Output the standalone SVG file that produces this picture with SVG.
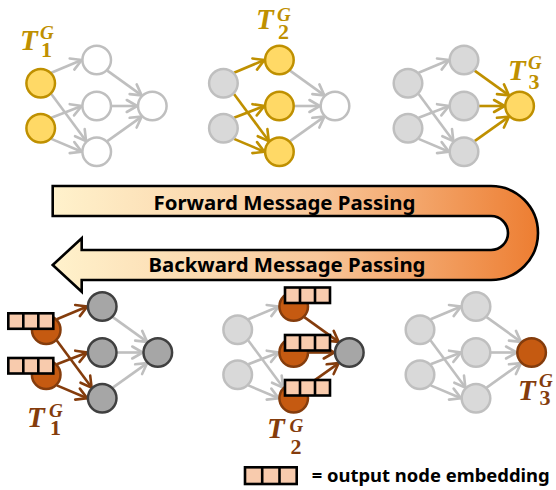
<svg xmlns="http://www.w3.org/2000/svg" width="556" height="490" viewBox="0 0 556 490">
<defs>
<style>
.e{fill:none;stroke-width:2.6}
.g{stroke:#BFBFBF;marker-end:url(#mg)}
.y{stroke:#BF9000;marker-end:url(#my)}
.b{stroke:#843C0C;marker-end:url(#mb)}
circle{stroke-width:2.5}
.nw{fill:#FFFFFF;stroke:#BFBFBF}
.nl{fill:#D9D9D9;stroke:#BFBFBF}
.ny{fill:#FFD966;stroke:#BF9000}
.nd{fill:#A6A6A6;stroke:#404040}
.no{fill:#C55A11;stroke:#843C0C}
.lab{font-family:"Liberation Serif","DejaVu Serif",serif;font-weight:bold;font-style:italic}
.T{font-size:29px}
.sub{font-size:22px;font-style:normal}
.sup{font-size:19px}
.ly{fill:#BF9000}
.lb{fill:#843C0C}
.bt{font-family:"Noto Sans","Open Sans",sans-serif;font-weight:bold;font-size:20px;fill:#000000}
.lt{font-family:"Noto Sans","Open Sans",sans-serif;font-weight:bold;font-size:17px;fill:#000000}
.cell{fill:#F8CBAD;stroke:#000000;stroke-width:2.6}
</style>
<marker id="mg" viewBox="-12 -8 16 16" refX="2" refY="0" markerWidth="16" markerHeight="16" markerUnits="userSpaceOnUse" orient="auto"><path d="M-8.5,-6 L2,0 L-8.5,6" fill="none" stroke="#BFBFBF" stroke-width="2.6" stroke-linecap="round"/></marker>
<marker id="my" viewBox="-12 -8 16 16" refX="2" refY="0" markerWidth="16" markerHeight="16" markerUnits="userSpaceOnUse" orient="auto"><path d="M-8.5,-6 L2,0 L-8.5,6" fill="none" stroke="#BF9000" stroke-width="2.6" stroke-linecap="round"/></marker>
<marker id="mb" viewBox="-12 -8 16 16" refX="2" refY="0" markerWidth="16" markerHeight="16" markerUnits="userSpaceOnUse" orient="auto"><path d="M-8.5,-6 L2,0 L-8.5,6" fill="none" stroke="#843C0C" stroke-width="2.6" stroke-linecap="round"/></marker>
<linearGradient id="grad" gradientUnits="userSpaceOnUse" x1="52" y1="0" x2="539" y2="0">
<stop offset="0" stop-color="#FFF2CC"/>
<stop offset="0.55" stop-color="#F8C699"/>
<stop offset="1" stop-color="#ED7D31"/>
</linearGradient>
<g id="emb">
<rect class="cell" x="0" y="0" width="45" height="15.5"/>
<line x1="15" y1="0" x2="15" y2="15.5" stroke="#000" stroke-width="2.6"/>
<line x1="30" y1="0" x2="30" y2="15.5" stroke="#000" stroke-width="2.6"/>
</g>
</defs>

<g id="banner">
<path d="M52.7,186 L491,186 A47,47 0 0 1 491,280 L81.7,280 L81.7,291.7 L52.7,265 L81.7,238.3 L81.7,250 L491,250 A17,17 0 0 0 491,216 L52.7,216 Z" fill="url(#grad)" stroke="#000" stroke-width="2.6" stroke-linejoin="miter"/>
<text class="bt" x="153.5" y="210" textLength="262" lengthAdjust="spacingAndGlyphs">Forward Message Passing</text>
<text class="bt" x="148.5" y="271.7" textLength="277" lengthAdjust="spacingAndGlyphs">Backward Message Passing</text>
</g>

<g id="connectors">
<g transform="translate(0,0)">
<path class="e g" d="M51.3,72.7 L81.7,60"/>
<path class="e g" d="M51.3,93.9 L86.1,141.1"/>
<path class="e g" d="M51.3,117.7 L81.7,106"/>
<path class="e g" d="M51.3,138.9 L81.7,151.7"/>
<path class="e g" d="M107.3,70.6 L141.7,95.4"/>
<path class="e g" d="M111.7,106 L137.3,106"/>
<path class="e g" d="M107.3,141.1 L141.7,116.6"/>
</g>
<g transform="translate(182.7,0)">
<path class="e y" d="M51.3,72.7 L81.7,60"/>
<path class="e y" d="M51.3,93.9 L86.1,141.1"/>
<path class="e y" d="M51.3,117.7 L81.7,106"/>
<path class="e y" d="M51.3,138.9 L81.7,151.7"/>
<path class="e g" d="M107.3,70.6 L141.7,95.4"/>
<path class="e g" d="M111.7,106 L137.3,106"/>
<path class="e g" d="M107.3,141.1 L141.7,116.6"/>
</g>
<g transform="translate(367.3,0)">
<path class="e g" d="M51.3,72.7 L81.7,60"/>
<path class="e g" d="M51.3,93.9 L86.1,141.1"/>
<path class="e g" d="M51.3,117.7 L81.7,106"/>
<path class="e g" d="M51.3,138.9 L81.7,151.7"/>
<path class="e y" d="M107.3,70.6 L141.7,95.4"/>
<path class="e y" d="M111.7,106 L137.3,106"/>
<path class="e y" d="M107.3,141.1 L141.7,116.6"/>
</g>
<g transform="translate(5.5,246.5)">
<path class="e b" d="M51.3,72.7 L81.7,60"/>
<path class="e b" d="M51.3,93.9 L86.1,141.1"/>
<path class="e b" d="M51.3,117.7 L81.7,106"/>
<path class="e b" d="M51.3,138.9 L81.7,151.7"/>
<path class="e g" d="M107.3,70.6 L141.7,95.4"/>
<path class="e g" d="M111.7,106 L137.3,106"/>
<path class="e g" d="M107.3,141.1 L141.7,116.6"/>
</g>
<g transform="translate(197,246.5)">
<path class="e g" d="M51.3,72.7 L81.7,60"/>
<path class="e g" d="M51.3,93.9 L86.1,141.1"/>
<path class="e g" d="M51.3,117.7 L81.7,106"/>
<path class="e g" d="M51.3,138.9 L81.7,151.7"/>
<path class="e b" d="M107.3,70.6 L141.7,95.4"/>
<path class="e b" d="M111.7,106 L137.3,106"/>
<path class="e b" d="M107.3,141.1 L141.7,116.6"/>
</g>
<g transform="translate(379.3,246.5)">
<path class="e g" d="M51.3,72.7 L81.7,60"/>
<path class="e g" d="M51.3,93.9 L86.1,141.1"/>
<path class="e g" d="M51.3,117.7 L81.7,106"/>
<path class="e g" d="M51.3,138.9 L81.7,151.7"/>
<path class="e g" d="M107.3,70.6 L141.7,95.4"/>
<path class="e g" d="M111.7,106 L137.3,106"/>
<path class="e g" d="M107.3,141.1 L141.7,116.6"/>
</g>
</g>

<!-- Panel A -->
<g id="a-i1"><circle class="ny" cx="40.7" cy="83.3" r="14.3"/></g>
<g id="a-i2"><circle class="ny" cx="40.7" cy="128.3" r="14.3"/></g>
<g id="a-h1"><circle class="nw" cx="96.7" cy="60" r="14.3"/></g>
<g id="a-h2"><circle class="nw" cx="96.7" cy="106" r="14.3"/></g>
<g id="a-h3"><circle class="nw" cx="96.7" cy="151.7" r="14.3"/></g>
<g id="a-o"><circle class="nw" cx="152.3" cy="106" r="14.3"/></g>
<!-- Panel B -->
<g id="b-i1"><circle class="nl" cx="223.4" cy="83.3" r="14.3"/></g>
<g id="b-i2"><circle class="nl" cx="223.4" cy="128.3" r="14.3"/></g>
<g id="b-h1"><circle class="ny" cx="279.4" cy="60" r="14.3"/></g>
<g id="b-h2"><circle class="ny" cx="279.4" cy="106" r="14.3"/></g>
<g id="b-h3"><circle class="ny" cx="279.4" cy="151.7" r="14.3"/></g>
<g id="b-o"><circle class="nw" cx="335" cy="106" r="14.3"/></g>
<!-- Panel C -->
<g id="c-i1"><circle class="nl" cx="408" cy="83.3" r="14.3"/></g>
<g id="c-i2"><circle class="nl" cx="408" cy="128.3" r="14.3"/></g>
<g id="c-h1"><circle class="nl" cx="464" cy="60" r="14.3"/></g>
<g id="c-h2"><circle class="nl" cx="464" cy="106" r="14.3"/></g>
<g id="c-h3"><circle class="nl" cx="464" cy="151.7" r="14.3"/></g>
<g id="c-o"><circle class="ny" cx="519.6" cy="106" r="14.3"/></g>
<!-- Panel D -->
<g id="d-i1"><circle class="no" cx="46.2" cy="329.8" r="14.3"/><use href="#emb" x="8.3" y="313.3"/></g>
<g id="d-i2"><circle class="no" cx="46.2" cy="374.8" r="14.3"/><use href="#emb" x="8.3" y="358"/></g>
<g id="d-h1"><circle class="nd" cx="102.2" cy="306.5" r="14.3"/></g>
<g id="d-h2"><circle class="nd" cx="102.2" cy="352.5" r="14.3"/></g>
<g id="d-h3"><circle class="nd" cx="102.2" cy="398.2" r="14.3"/></g>
<g id="d-o"><circle class="nd" cx="157.8" cy="352.5" r="14.3"/></g>
<!-- Panel E -->
<g id="e-i1"><circle class="nl" cx="237.7" cy="329.8" r="14.3"/></g>
<g id="e-i2"><circle class="nl" cx="237.7" cy="374.8" r="14.3"/></g>
<g id="e-h1"><circle class="no" cx="293.7" cy="306.5" r="14.3"/><use href="#emb" x="285" y="287.5"/></g>
<g id="e-h2"><circle class="no" cx="293.7" cy="352.5" r="14.3"/><use href="#emb" x="285" y="335"/></g>
<g id="e-h3"><circle class="no" cx="293.7" cy="398.2" r="14.3"/><use href="#emb" x="285" y="380"/></g>
<g id="e-o"><circle class="nd" cx="349.3" cy="352.5" r="14.3"/></g>
<!-- Panel F -->
<g id="f-i1"><circle class="nl" cx="420" cy="329.8" r="14.3"/></g>
<g id="f-i2"><circle class="nl" cx="420" cy="374.8" r="14.3"/></g>
<g id="f-h1"><circle class="nl" cx="476" cy="306.5" r="14.3"/></g>
<g id="f-h2"><circle class="nl" cx="476" cy="352.5" r="14.3"/></g>
<g id="f-h3"><circle class="nl" cx="476" cy="398.2" r="14.3"/></g>
<g id="f-o"><circle class="no" cx="531.6" cy="352.5" r="14.3"/></g>

<!-- Labels -->
<g id="label-a"><text class="lab ly"><tspan class="T" x="20" y="50">T</tspan><tspan class="sup" x="40" y="38.5">G</tspan><tspan class="sub" x="41" y="57">1</tspan></text></g>
<g id="label-b"><text class="lab ly"><tspan class="T" x="256" y="28.5">T</tspan><tspan class="sup" x="277" y="20.5">G</tspan><tspan class="sub" x="278" y="38.5">2</tspan></text></g>
<g id="label-c"><text class="lab ly"><tspan class="T" x="508" y="80">T</tspan><tspan class="sup" x="528" y="68.5">G</tspan><tspan class="sub" x="528.5" y="88.5">3</tspan></text></g>
<g id="label-d"><text class="lab lb"><tspan class="T" x="27" y="427">T</tspan><tspan class="sup" x="49" y="416.5">G</tspan><tspan class="sub" x="50" y="435">1</tspan></text></g>
<g id="label-e"><text class="lab lb"><tspan class="T" x="267" y="438">T</tspan><tspan class="sup" x="289.5" y="431.5">G</tspan><tspan class="sub" x="290.5" y="453.5">2</tspan></text></g>
<g id="label-f"><text class="lab lb"><tspan class="T" x="518" y="400">T</tspan><tspan class="sup" x="539" y="386.5">G</tspan><tspan class="sub" x="539.5" y="405">3</tspan></text></g>

<g id="legend">
<rect class="cell" x="245" y="467.3" width="51.7" height="16.7"/>
<line x1="262.2" y1="467.3" x2="262.2" y2="484" stroke="#000" stroke-width="2.6"/>
<line x1="279.5" y1="467.3" x2="279.5" y2="484" stroke="#000" stroke-width="2.6"/>
<text class="lt" x="311.7" y="481.7" textLength="238" lengthAdjust="spacingAndGlyphs">= output node embedding</text>
</g>
</svg>
